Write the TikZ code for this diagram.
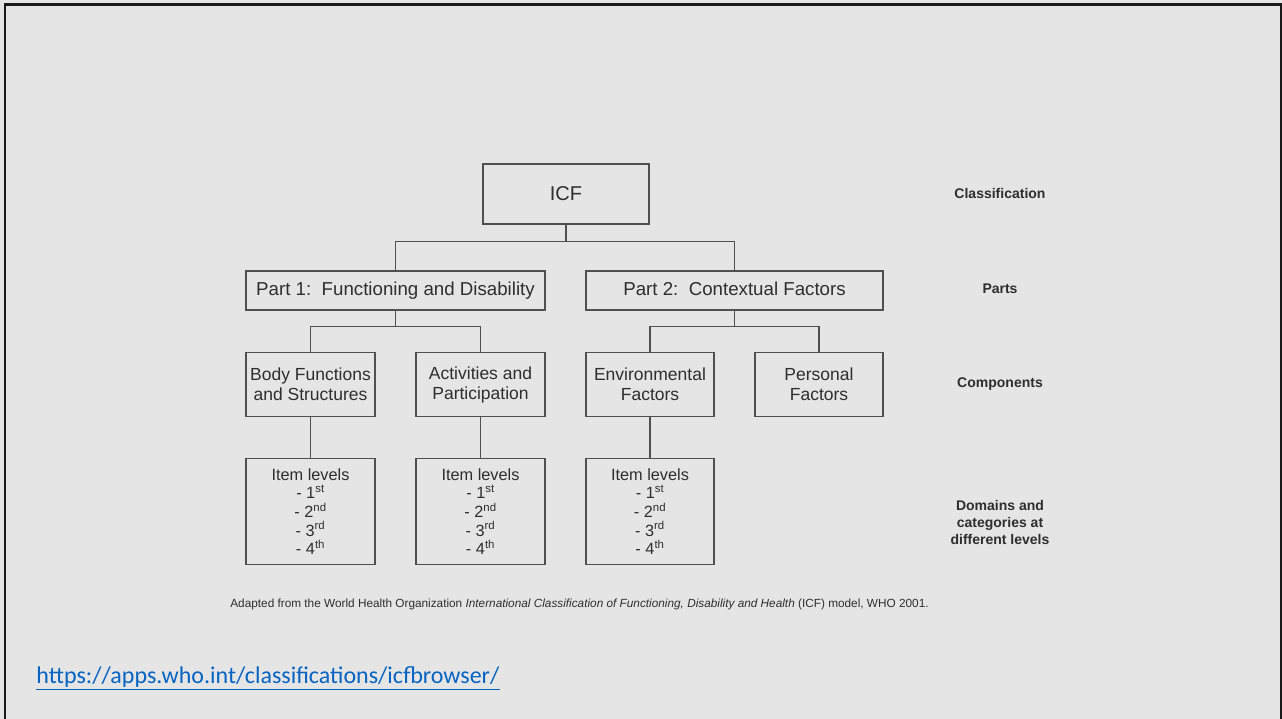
\documentclass[tikz,border=0pt]{standalone}
\usepackage{fontspec}
\setmainfont{Liberation Sans}
\newfontfamily\linkfont{Carlito}
\usepackage{xcolor}
\usetikzlibrary{positioning,calc}

\definecolor{slidebg}{HTML}{E6E5E5}
\definecolor{boxline}{HTML}{505050}
\definecolor{boxtext}{HTML}{2E2E2E}
\definecolor{linkblue}{HTML}{0563C1}

\begin{document}
\begin{tikzpicture}[x=1pt,y=-1pt,
  box/.style={draw=boxline,line width=1.3pt,fill=slidebg,inner sep=0pt,align=center,text=boxtext},
  partbox/.style={box,minimum height=39,text height=13.5pt,text depth=3.8pt,font=\fontsize{18.7}{22}\selectfont},
  conn/.style={draw=boxline,line width=1.3pt},
  tag/.style={align=center,text=boxtext,font=\fontsize{14}{17}\selectfont\bfseries}]
  \useasboundingbox (0,0) rectangle (1282,719);
  \fill[slidebg] (0,0) rectangle (1282,719);
  \draw[line width=2.5pt,black!90] (5,719) |- (1281,4.7) -- (1281,719);

  \node[box,minimum width=166,minimum height=60,font=\fontsize{20}{24}\selectfont] (icf) at (566,194) {ICF};
  \node[partbox,minimum width=299] (part1) at (395.5,290.5) {Part 1:\ \ Functioning and Disability};
  \node[partbox,minimum width=297] (part2) at (734.5,290.5) {Part 2:\ \ Contextual Factors};

  \node[box,minimum width=129,minimum height=64,font=\fontsize{17.5}{20}\selectfont] (body) at (310.5,384.5) {Body Functions\\and Structures};
  \node[box,minimum width=129,minimum height=64,font=\fontsize{17.5}{20}\selectfont] (activ) at (480.5,384.5) {Activities and\\Participation};
  \node[box,minimum width=128,minimum height=64,font=\fontsize{17.5}{20}\selectfont] (envir) at (650,384.5) {Environmental\\Factors};
  \node[box,minimum width=128,minimum height=64,font=\fontsize{17.5}{20}\selectfont] (person) at (819,384.5) {Personal\\Factors};

  \node[box,minimum width=129,minimum height=106,font=\fontsize{16.3}{18.7}\selectfont] (bodyitems) at (310.5,511.5) {Item levels\\- 1\textsuperscript{st}\\- 2\textsuperscript{nd}\\- 3\textsuperscript{rd}\\- 4\textsuperscript{th}};
  \node[box,minimum width=129,minimum height=106,font=\fontsize{16.3}{18.7}\selectfont] (activitems) at (480.5,511.5) {Item levels\\- 1\textsuperscript{st}\\- 2\textsuperscript{nd}\\- 3\textsuperscript{rd}\\- 4\textsuperscript{th}};
  \node[box,minimum width=128,minimum height=106,font=\fontsize{16.3}{18.7}\selectfont] (enviritems) at (650,511.5) {Item levels\\- 1\textsuperscript{st}\\- 2\textsuperscript{nd}\\- 3\textsuperscript{rd}\\- 4\textsuperscript{th}};

  \draw[conn] (icf.south) -- ++(0,17) coordinate (icfbar);
  \draw[conn] (part1.north) |- (icfbar) -| (part2.north);
  \draw[conn] (part1.south) -- ++(0,16) coordinate (part1bar);
  \draw[conn] (body.north) |- (part1bar) -| (activ.north);
  \draw[conn] (part2.south) -- ++(0,16) coordinate (part2bar);
  \draw[conn] (envir.north) |- (part2bar) -| (person.north);
  \draw[conn] (body.south) -- (bodyitems.north);
  \draw[conn] (activ.south) -- (activitems.north);
  \draw[conn] (envir.south) -- (enviritems.north);

  \node[tag] (lblclass) at (1000,193) {Classification};
  \node[tag] (lblparts) at (1000,289) {Parts};
  \node[tag] (lblcomp) at (1000,384) {Components};
  \node[tag] (lbldomains) at (1000,522) {Domains and\\categories at\\different levels};

  \node[text=boxtext,font=\fontsize{11.8}{14}\selectfont] (source) at (579.5,604) {Adapted from the World Health Organization \textit{International Classification of Functioning, Disability and Health} (ICF) model, WHO 2001.};
  \node[text=linkblue,font=\linkfont\fontsize{24}{28}\selectfont,inner sep=0pt] (link) at (268,678) {\underline{https://apps.who.int/classifications/icfbrowser/}};
\end{tikzpicture}
\end{document}
